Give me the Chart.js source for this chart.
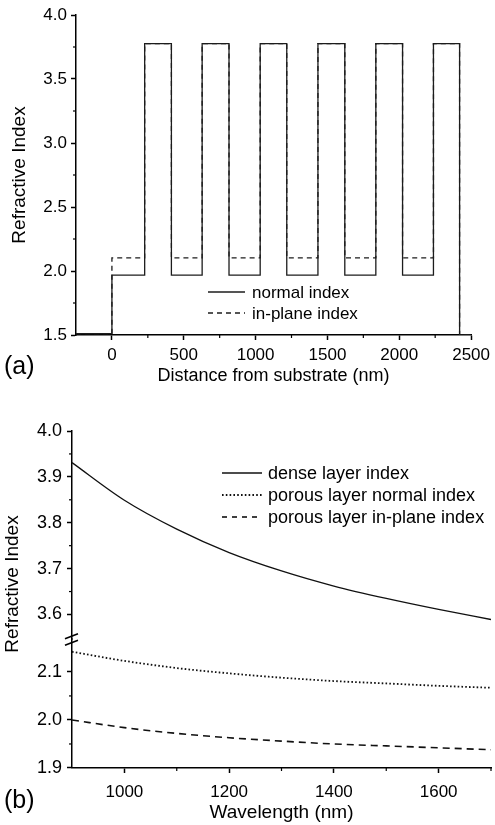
<!DOCTYPE html>
<html>
<head>
<meta charset="utf-8">
<script src="https://cdn.jsdelivr.net/npm/chart.js@4.4.1/dist/chart.umd.min.js"></script>
<style>
  body { margin: 0; background: #fff; width: 495px; height: 825px; overflow: hidden; position: relative;
         font-family: 'Liberation Sans', Arial, sans-serif; }
  .panel { position: absolute; left: 0; width: 495px; }
  #pa { top: 0; height: 392px; }
  #pb { top: 385px; height: 440px; }
  .tag { position: absolute; left: 4px; font-size: 25px; color: #000; line-height: 1; }
</style>
</head>
<body>
<div class="panel" id="pa"><canvas id="chartA"></canvas></div>
<div class="panel" id="pb"><canvas id="chartB"></canvas></div>
<div class="tag" style="top:353px">(a)</div>
<div class="tag" style="top:787px">(b)</div>
<script>
// (a) index profile of the multilayer, one value per layer starting at each edge
const layerEdges = [-250, 0, 228, 414, 628, 815, 1032, 1217, 1434, 1621, 1837, 2023, 2238, 2420, 2500];
const normalIndex = [1.51, 1.967, 3.777, 1.967, 3.777, 1.967, 3.777, 1.967, 3.777, 1.967, 3.777, 1.967, 3.777, 1.5, 1.5];
const inPlaneIndex = [1.51, 2.102, 3.777, 2.102, 3.777, 2.102, 3.777, 2.102, 3.777, 2.102, 3.777, 2.102, 3.777, 1.5, 1.5];
const distanceTicks = [0, 500, 1000, 1500, 2000, 2500];
const distanceMinor = [250, 750, 1250, 1750, 2250];
const indexTicksA = [1.5, 2.0, 2.5, 3.0, 3.5, 4.0];
const indexMinorA = [1.75, 2.25, 2.75, 3.25, 3.75];

// (b) dispersion
const wavelength = [900, 1000, 1100, 1200, 1300, 1400, 1500, 1600, 1700];
const denseIndex = [3.931, 3.849, 3.786, 3.735, 3.695, 3.662, 3.635, 3.611, 3.589];
const porousNormal = [2.142, 2.123, 2.108, 2.097, 2.088, 2.081, 2.076, 2.071, 2.067];
const porousInPlane = [2.000, 1.984, 1.972, 1.963, 1.956, 1.950, 1.946, 1.942, 1.938];
const wavelengthTicks = [1000, 1200, 1400, 1600];
const wavelengthMinor = [1100, 1300, 1500, 1700];
const upperTicks = [3.6, 3.7, 3.8, 3.9, 4.0];
const upperMinor = [3.65, 3.75, 3.85, 3.95];
const lowerTicks = [1.9, 2.0, 2.1];
const lowerMinor = [1.95, 2.05];

const FONT = "'Liberation Sans', Arial, Helvetica, sans-serif";
Chart.defaults.font.family = FONT;
Chart.defaults.color = '#000';

const border = { display: true, color: '#000', width: 1.5 };
const grid = { drawOnChartArea: false, drawTicks: true, tickLength: 5, tickColor: '#000', tickWidth: 1.5 };

function fixedTicks(values) {
    return scale => { scale.ticks = values.map(v => ({ value: v })); };
}

function pairs(xs, ys) {
    return xs.map((x, i) => ({ x: x, y: ys[i] }));
}

// short unlabeled ticks between the labelled ones
function minorTicks(map) {
    return {
        id: 'minorTicks',
        afterDraw(chart) {
            const ctx = chart.ctx;
            ctx.save();
            ctx.strokeStyle = '#000';
            ctx.lineWidth = 1.2;
            for (const id in map) {
                const s = chart.scales[id];
                map[id].forEach(v => {
                    const p = s.getPixelForValue(v);
                    ctx.beginPath();
                    if (s.isHorizontal()) { ctx.moveTo(p, s.top); ctx.lineTo(p, s.top + 3); }
                    else { ctx.moveTo(s.right, p); ctx.lineTo(s.right - 3, p); }
                    ctx.stroke();
                });
            }
            ctx.restore();
        }
    };
}

function lineLegend(box) {
    return {
        id: 'lineLegend',
        afterDatasetsDraw(chart) {
            const ctx = chart.ctx;
            ctx.save();
            ctx.font = box.size + 'px ' + FONT;
            ctx.fillStyle = '#000';
            ctx.textBaseline = 'middle';
            chart.data.datasets.forEach((ds, i) => {
                const y = box.y + i * box.gap;
                ctx.beginPath();
                ctx.setLineDash(ds.legendDash || ds.borderDash || []);
                ctx.lineWidth = ds.borderWidth;
                ctx.strokeStyle = ds.borderColor;
                ctx.moveTo(box.x, y);
                ctx.lineTo(box.x + box.len, y);
                ctx.stroke();
                ctx.setLineDash([]);
                ctx.fillText(ds.label, box.x + box.len + box.space, y + 1);
            });
            ctx.restore();
        }
    };
}

new Chart(document.getElementById('chartA'), {
    type: 'line',
    data: {
        datasets: [
            { label: 'normal index', data: pairs(layerEdges, normalIndex), stepped: true,
              borderColor: '#1c1c1c', borderWidth: 1.3, pointRadius: 0 },
            { label: 'in-plane index', data: pairs(layerEdges, inPlaneIndex), stepped: true,
              borderColor: '#1c1c1c', borderWidth: 1.3, borderDash: [5, 4], pointRadius: 0 }
        ]
    },
    options: {
        responsive: true,
        maintainAspectRatio: false,
        animation: false,
        layout: { padding: { top: 15, right: 22, left: 0, bottom: 0 } },
        plugins: { legend: { display: false }, tooltip: { enabled: false } },
        scales: {
            x: {
                type: 'linear', min: -250, max: 2500,
                afterBuildTicks: fixedTicks(distanceTicks),
                afterFit: s => { s.height = 57; },
                border: border, grid: grid,
                ticks: { font: { size: 17 }, padding: 5, maxRotation: 0, autoSkip: false, callback: v => String(v) },
                title: { display: true, text: 'Distance from substrate (nm)', font: { size: 18 }, padding: { top: 0, bottom: 5 } }
            },
            y: {
                type: 'linear', min: 1.5, max: 4.0,
                afterBuildTicks: fixedTicks(indexTicksA),
                afterFit: s => { s.width = 76; },
                border: border, grid: grid,
                ticks: { font: { size: 17 }, padding: 4, callback: v => v.toFixed(1) },
                title: { display: true, text: 'Refractive Index', font: { size: 19 }, padding: { top: 8, bottom: 0 } }
            }
        }
    },
    plugins: [minorTicks({ x: distanceMinor, y: indexMinorA }),
              lineLegend({ x: 208, y: 292, gap: 21, len: 37, space: 7, size: 17 })]
});

const axisBreak = {
    id: 'axisBreak',
    afterDraw(chart) {
        const s = chart.scales.yTop;
        const x = s.right, y = s.bottom;
        const ctx = chart.ctx;
        ctx.save();
        ctx.strokeStyle = '#000';
        ctx.lineWidth = 1.6;
        [-3, 3.5].forEach(d => {
            ctx.beginPath();
            ctx.moveTo(x - 7, y + d + 2.5);
            ctx.lineTo(x + 6, y + d - 2.5);
            ctx.stroke();
        });
        // shared axis title for the two stacked segments
        ctx.font = '19px ' + FONT;
        ctx.fillStyle = '#000';
        ctx.textAlign = 'center';
        ctx.textBaseline = 'middle';
        ctx.translate(13, 199);
        ctx.rotate(-Math.PI / 2);
        ctx.fillText('Refractive Index', 0, 0);
        ctx.restore();
    }
};

new Chart(document.getElementById('chartB'), {
    type: 'line',
    data: {
        datasets: [
            { label: 'dense layer index', data: pairs(wavelength, denseIndex), yAxisID: 'yTop',
              borderColor: '#111', borderWidth: 1.3, pointRadius: 0, cubicInterpolationMode: 'monotone' },
            { label: 'porous layer normal index', data: pairs(wavelength, porousNormal), yAxisID: 'yBot',
              borderColor: '#111', borderWidth: 1.8, borderDash: [1.6, 2.2], pointRadius: 0, cubicInterpolationMode: 'monotone' },
            { label: 'porous layer in-plane index', data: pairs(wavelength, porousInPlane), yAxisID: 'yBot',
              borderColor: '#111', borderWidth: 1.6, borderDash: [7, 5], legendDash: [5, 5], pointRadius: 0, cubicInterpolationMode: 'monotone' }
        ]
    },
    options: {
        responsive: true,
        maintainAspectRatio: false,
        animation: false,
        layout: { padding: { top: 46, right: 4, left: 0, bottom: 0 } },
        plugins: { legend: { display: false }, tooltip: { enabled: false } },
        scales: {
            x: {
                type: 'linear', min: 900, max: 1700,
                afterBuildTicks: fixedTicks(wavelengthTicks),
                afterFit: s => { s.height = 57; },
                border: border, grid: grid,
                ticks: { font: { size: 17 }, padding: 9, maxRotation: 0, autoSkip: false, callback: v => String(v) },
                title: { display: true, text: 'Wavelength (nm)', font: { size: 19 }, padding: { top: 0, bottom: 1 } }
            },
            yBot: {
                type: 'linear', position: 'left', stack: 'index', stackWeight: 128.6,
                min: 1.9, max: 2.168,
                afterBuildTicks: fixedTicks(lowerTicks),
                afterFit: s => { s.width = 72; },
                border: border, grid: grid,
                ticks: { font: { size: 18 }, padding: 5, callback: v => v.toFixed(1) }
            },
            yTop: {
                type: 'linear', position: 'left', stack: 'index', stackWeight: 208,
                min: 3.546, max: 4.0,
                afterBuildTicks: fixedTicks(upperTicks),
                afterFit: s => { s.width = 72; },
                border: border, grid: grid,
                ticks: { font: { size: 18 }, padding: 5, callback: v => v.toFixed(1) }
            }
        }
    },
    plugins: [minorTicks({ x: wavelengthMinor, yTop: upperMinor, yBot: lowerMinor }),
              lineLegend({ x: 222, y: 88, gap: 22, len: 40, space: 6, size: 18 }),
              axisBreak]
});
</script>
</body>
</html>
